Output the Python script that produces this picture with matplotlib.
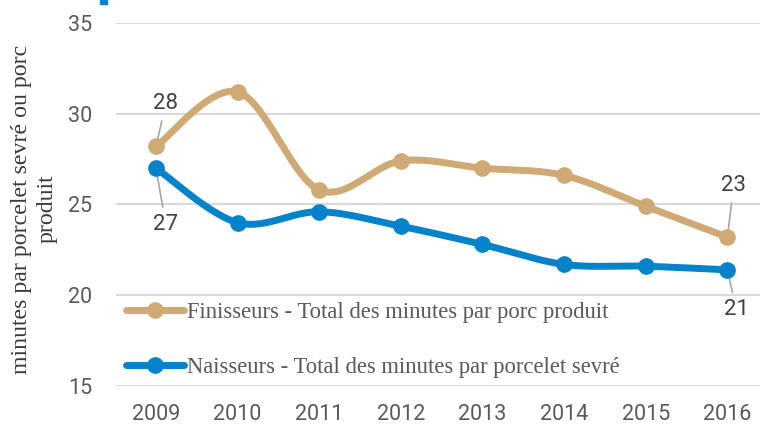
import numpy as np
import matplotlib
matplotlib.use('Agg')
import matplotlib.pyplot as plt
from matplotlib.lines import Line2D

# données
years = [2009, 2010, 2011, 2012, 2013, 2014, 2015, 2016]
finisseurs = [28.2, 31.2, 25.8, 27.4, 27.0, 26.6, 24.9, 23.2]
naisseurs = [27.0, 24.0, 24.6, 23.8, 22.8, 21.7, 21.6, 21.4]
lbl_fin = 'Finisseurs - Total des minutes par porc produit'
lbl_nai = 'Naisseurs - Total des minutes par porcelet sevré'
ylabel = 'minutes par porcelet sevré ou porc\nproduit'

c_fin = '#D0AA74'
c_nai = '#0483CA'
grey = '#595959'


def smooth(x, y, n=30):
    # courbe lissée type Excel (Catmull-Rom)
    x = np.asarray(x, float)
    y = np.asarray(y, float)
    px = np.concatenate([[x[0]], x, [x[-1]]])
    py = np.concatenate([[y[0]], y, [y[-1]]])
    xs, ys = [], []
    t = np.linspace(0, 1, n)
    for i in range(1, len(px) - 2):
        p0, p1, p2, p3 = [np.array([px[j], py[j]]) for j in range(i - 1, i + 3)]
        c1 = p1 + (p2 - p0) / 6
        c2 = p2 - (p3 - p1) / 6
        b = (np.outer((1 - t) ** 3, p1) + np.outer(3 * (1 - t) ** 2 * t, c1)
             + np.outer(3 * (1 - t) * t ** 2, c2) + np.outer(t ** 3, p2))
        xs.extend(b[:, 0])
        ys.extend(b[:, 1])
    return xs, ys


fig = plt.figure(figsize=(7.6, 4.25), dpi=100)
ax = fig.add_axes([116 / 760, 1 - 386 / 425, 1 - 116 / 760, (386 - 23) / 425])

for vals, col in [(finisseurs, c_fin), (naisseurs, c_nai)]:
    sx, sy = smooth(years, vals)
    ax.plot(sx, sy, color=col, lw=5, solid_capstyle='round', zorder=3)
    ax.plot(years, vals, 'o', color=col, ms=11, zorder=4)

ax.set_ylim(15, 35)
ax.set_xlim(2008.51, 2016.4)
ax.set_yticks([15, 20, 25, 30, 35])
ax.set_xticks(years)
ax.grid(axis='y', color='#D9D9D9', lw=1.5)
ax.set_axisbelow(True)
for s in ax.spines.values():
    s.set_visible(False)
ax.tick_params(length=0, labelsize=15.5, labelcolor=grey)
ax.tick_params(axis='x', pad=13)
ax.tick_params(axis='y', pad=17)
for lab in ax.get_xticklabels() + ax.get_yticklabels():
    lab.set_fontfamily('Roboto')

fig.text(34 / 760, 1 - 209 / 425, ylabel, rotation=90, ha='center', va='center',
         fontsize=17.2, color='#3A3A3A', family='Liberation Serif',
         linespacing=1.3, multialignment='center')

# étiquettes de données avec traits de rappel
lead = dict(arrowstyle='-', color='#A6A6A6', lw=1.2, shrinkA=3, shrinkB=0)
lab_kw = dict(fontsize=16, color='#404040', family='Roboto', ha='center', va='center')
ax.annotate('28', xy=(years[0], finisseurs[0]), xytext=(years[0] + 0.12, 30.55),
            arrowprops=lead, **lab_kw)
ax.annotate('27', xy=(years[0], naisseurs[0]), xytext=(years[0] + 0.12, 23.9),
            arrowprops=lead, **lab_kw)
ax.annotate('23', xy=(years[-1], finisseurs[-1]), xytext=(years[-1] + 0.08, 26.05),
            arrowprops=lead, **lab_kw)
ax.annotate('21', xy=(years[-1], naisseurs[-1]), xytext=(years[-1] + 0.11, 19.2),
            arrowprops=lead, **lab_kw)

handles = [Line2D([0, 0.5, 1], [0, 0, 0], color=c_fin, lw=5, marker='o', ms=11,
                  markevery=[1], solid_capstyle='round'),
           Line2D([0, 0.5, 1], [0, 0, 0], color=c_nai, lw=5, marker='o', ms=11,
                  markevery=[1], solid_capstyle='round')]
leg = ax.legend(handles, [lbl_fin, lbl_nai], loc='center left',
                bbox_to_anchor=(0.016, 0.128), frameon=False, borderaxespad=0,
                borderpad=0, handlelength=2.55, handletextpad=0.15,
                labelspacing=1.5, prop={'family': 'Liberation Serif', 'size': 16.3})
for t in leg.get_texts():
    t.set_color(grey)

fig.patches.append(plt.Rectangle((100 / 760, 1 - 4 / 425), 7 / 760, 4 / 425,
                                 transform=fig.transFigure, color=c_nai, figure=fig))

fig.savefig('out.png', dpi=100)
